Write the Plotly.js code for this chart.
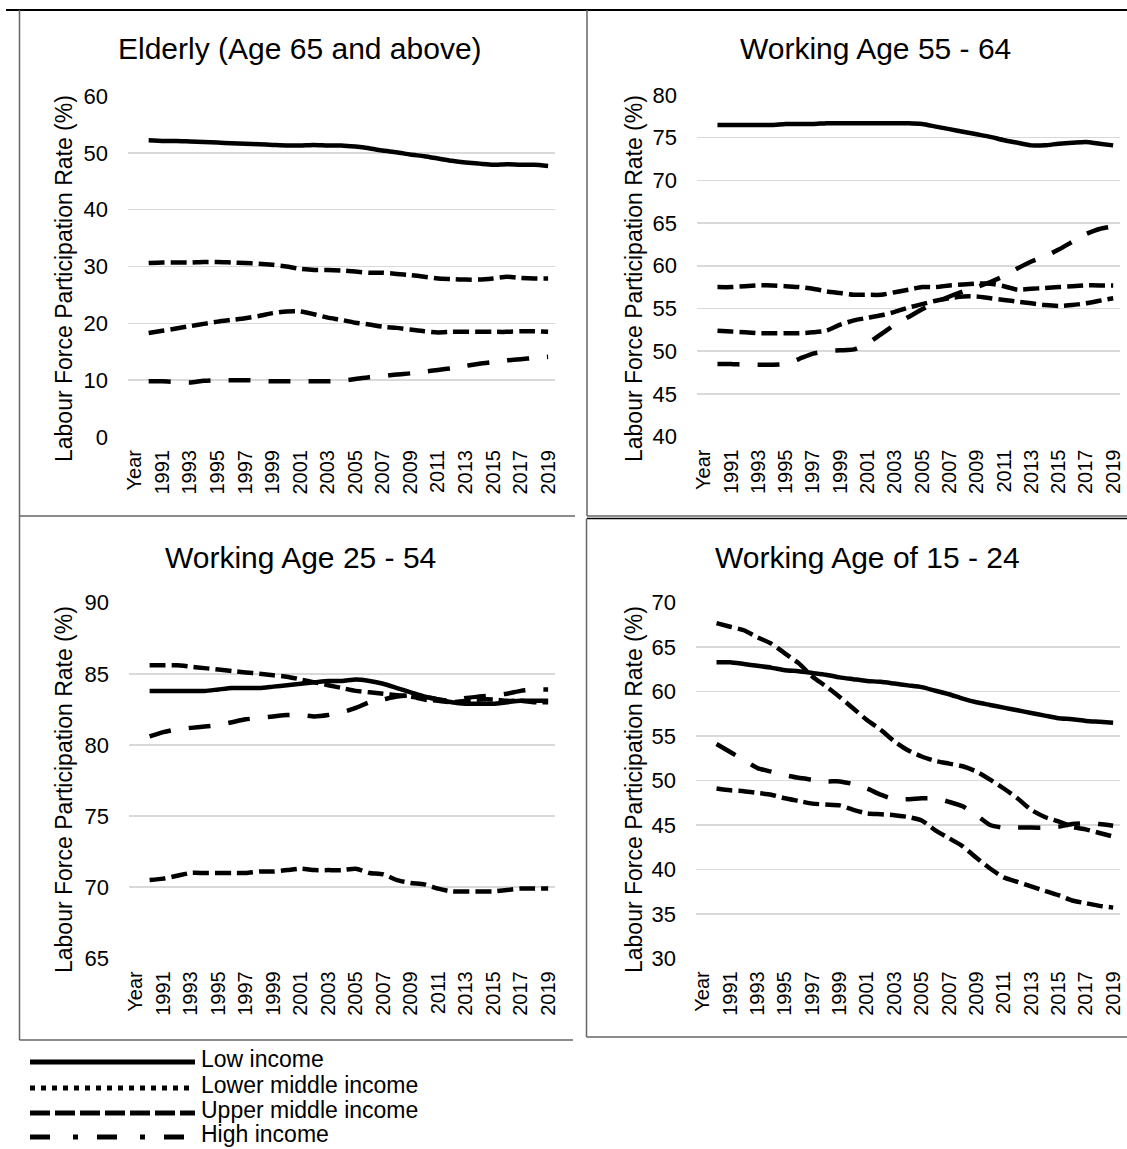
<!DOCTYPE html>
<html><head><meta charset="utf-8">
<script src="https://cdn.plot.ly/plotly-3.0.1.min.js"></script>
<style>html,body{margin:0;padding:0;background:#fff}#chart{width:1127px;height:1149px}</style>
</head><body><div id="chart"></div>
<script>
// ---- data ----
const years = ['1990','1991','1992','1993','1994','1995','1996','1997','1998','1999','2000','2001','2002','2003','2004','2005','2006','2007','2008','2009','2010','2011','2012','2013','2014','2015','2016','2017','2018','2019'];
const categories = ['Year'].concat(years);
const tickLabels = ['Year','1991','1993','1995','1997','1999','2001','2003','2005','2007','2009','2011','2013','2015','2017','2019'];
const seriesNames = ['Low income','Lower middle income','Upper middle income','High income'];
const panelTitles = ['Elderly (Age 65 and above)','Working Age 55 - 64','Working Age 25 - 54','Working Age of 15 - 24'];
const yAxisTitle = 'Labour Force Participation Rate (%)';

const elderlyLow = [52.2,52.1,52.1,52.0,51.9,51.8,51.7,51.6,51.5,51.4,51.3,51.3,51.4,51.3,51.3,51.1,50.8,50.4,50.1,49.7,49.4,49.0,48.6,48.3,48.1,47.9,48.0,47.9,47.9,47.7];
const elderlyLowerMiddle = [30.6,30.7,30.7,30.7,30.8,30.8,30.7,30.6,30.5,30.3,30.0,29.6,29.4,29.4,29.3,29.1,28.9,28.9,28.7,28.5,28.2,27.9,27.8,27.7,27.7,27.9,28.2,28.0,27.9,27.9];
const elderlyUpperMiddle = [18.3,18.7,19.1,19.5,19.9,20.3,20.6,20.9,21.3,21.8,22.1,22.1,21.6,21.0,20.6,20.1,19.8,19.4,19.2,18.9,18.6,18.4,18.5,18.5,18.5,18.5,18.5,18.6,18.6,18.5];
const elderlyHigh = [9.8,9.8,9.7,9.6,9.9,10.0,10.0,10.0,9.9,9.8,9.8,9.8,9.8,9.8,9.9,10.2,10.5,10.7,11.0,11.2,11.5,11.8,12.1,12.5,12.9,13.2,13.5,13.7,13.9,14.1];

const age5564Low = [76.5,76.5,76.5,76.5,76.5,76.6,76.6,76.6,76.7,76.7,76.7,76.7,76.7,76.7,76.7,76.6,76.3,76.0,75.7,75.4,75.1,74.7,74.4,74.1,74.1,74.3,74.4,74.5,74.3,74.1];
const age5564LowerMiddle = [57.5,57.5,57.6,57.7,57.7,57.6,57.5,57.3,57.0,56.8,56.6,56.6,56.6,56.9,57.2,57.5,57.5,57.7,57.8,57.9,57.9,57.6,57.2,57.3,57.4,57.5,57.6,57.7,57.7,57.7];
const age5564UpperMiddle = [52.4,52.3,52.2,52.1,52.1,52.1,52.1,52.2,52.4,53.1,53.6,53.9,54.2,54.6,55.1,55.5,55.9,56.2,56.4,56.4,56.2,56.0,55.8,55.6,55.4,55.3,55.4,55.6,55.9,56.2];
const age5564High = [48.5,48.5,48.4,48.4,48.4,48.5,49.1,49.7,50.0,50.1,50.2,50.9,52.0,53.1,54.0,54.9,55.7,56.4,57.0,57.5,58.1,58.8,59.7,60.5,61.1,61.9,62.8,63.7,64.3,64.6];

const age2554Low = [83.8,83.8,83.8,83.8,83.8,83.9,84.0,84.0,84.0,84.1,84.2,84.3,84.4,84.5,84.5,84.6,84.5,84.3,84.0,83.7,83.4,83.2,83.0,82.9,82.9,82.9,83.0,83.1,83.1,83.1];
const age2554LowerMiddle = [85.6,85.6,85.6,85.5,85.4,85.3,85.2,85.1,85.0,84.9,84.8,84.6,84.4,84.2,84.0,83.8,83.7,83.6,83.5,83.4,83.2,83.1,83.0,83.1,83.2,83.2,83.1,83.1,83.0,83.0];
const age2554UpperMiddle = [70.5,70.6,70.8,71.0,71.0,71.0,71.0,71.0,71.1,71.1,71.2,71.3,71.2,71.2,71.2,71.3,71.0,70.9,70.5,70.3,70.2,69.9,69.7,69.7,69.7,69.7,69.8,69.9,69.9,69.9];
const age2554High = [80.6,80.9,81.1,81.2,81.3,81.4,81.6,81.8,81.9,82.0,82.1,82.1,82.0,82.1,82.3,82.6,83.0,83.2,83.4,83.5,83.4,83.2,83.1,83.3,83.4,83.5,83.6,83.8,83.9,83.9];

const age1524Low = [63.3,63.3,63.1,62.9,62.7,62.4,62.3,62.1,61.9,61.6,61.4,61.2,61.1,60.9,60.7,60.5,60.1,59.7,59.2,58.8,58.5,58.2,57.9,57.6,57.3,57.0,56.9,56.7,56.6,56.5];
const age1524LowerMiddle = [49.1,48.9,48.8,48.6,48.4,48.0,47.7,47.4,47.3,47.2,46.7,46.3,46.2,46.1,45.9,45.5,44.4,43.5,42.6,41.3,40.1,39.1,38.6,38.1,37.6,37.1,36.5,36.2,35.9,35.7];
const age1524UpperMiddle = [67.7,67.3,66.9,66.1,65.4,64.3,63.2,61.7,60.6,59.4,58.1,56.8,55.7,54.4,53.4,52.7,52.2,51.9,51.6,51.0,50.1,49.1,48.0,46.7,45.9,45.4,44.8,44.5,44.1,43.7];
const age1524High = [54.1,53.2,52.3,51.4,51.0,50.6,50.3,50.1,49.9,49.9,49.6,49.1,48.4,47.9,47.9,48.0,48.0,47.6,47.1,46.1,45.0,44.7,44.7,44.7,44.7,44.8,45.1,45.2,45.1,44.9];

const yRanges = [[0,60],[40,80],[65,90],[30,70]];
const yDticks = [10,5,5,5];

// ---- layout helpers ----
const W = 1127, H = 1149;
const px = x => x / W;
const py = y => 1 - y / H;
const FONT = 'Liberation Sans, Arial, Helvetica, sans-serif';

const panelSeries = [
  [elderlyLow, elderlyLowerMiddle, elderlyUpperMiddle, elderlyHigh],
  [age5564Low, age5564LowerMiddle, age5564UpperMiddle, age5564High],
  [age2554Low, age2554LowerMiddle, age2554UpperMiddle, age2554High],
  [age1524Low, age1524LowerMiddle, age1524UpperMiddle, age1524High]
];
// plot-area pixel boxes [left, right, top, bottom]
const boxes = [[128,555,96,437],[697,1120,95,436.5],[129,555,602.7,958.3],[696,1120,602.7,958.3]];
const titlePos = [[300,49],[875,49],[300,557],[867,557]];
const yTitlePos = [[64,279],[634,279],[64,790],[634,790]];
const plotDash = ['solid','16px,6px','16px,6px','22px,18px'];

const traces = [];
const layout = {
  width: W, height: H,
  margin: {l:0, r:0, t:0, b:0},
  paper_bgcolor: '#fff', plot_bgcolor: '#fff',
  font: {family: FONT, color: '#000'},
  showlegend: false,
  annotations: [], shapes: []
};

panelSeries.forEach((group, p) => {
  const s = p === 0 ? '' : String(p + 1);
  const b = boxes[p];
  group.forEach((vals, k) => {
    traces.push({
      x: years, y: vals, name: seriesNames[k],
      xaxis: 'x' + s, yaxis: 'y' + s,
      type: 'scatter', mode: 'lines',
      line: {color: '#000', width: 4.5, dash: plotDash[k], shape: 'spline', smoothing: 0.6},
      hoverinfo: 'skip', showlegend: false
    });
  });
  layout['xaxis' + s] = {
    type: 'category', categoryorder: 'array', categoryarray: categories,
    range: [-0.5, categories.length - 0.5],
    domain: [px(b[0]), px(b[1])], anchor: 'y' + s,
    tickmode: 'array', tickvals: tickLabels, ticktext: tickLabels,
    tickangle: -90, tickfont: {size: 20, color: '#000', family: FONT},
    showgrid: false, zeroline: false, showline: false, ticks: '',
    ticklabelstandoff: 8, fixedrange: true
  };
  layout['yaxis' + s] = {
    range: yRanges[p], dtick: yDticks[p], tick0: 0,
    domain: [py(b[3]), py(b[2])], anchor: 'x' + s,
    showgrid: true, gridcolor: '#d9d9d9', gridwidth: 1.5,
    zeroline: false, showline: false, ticks: '',
    tickfont: {size: 22, color: '#000', family: FONT},
    ticklabelstandoff: 19, fixedrange: true
  };
  layout.annotations.push({
    text: panelTitles[p], xref: 'paper', yref: 'paper',
    x: px(titlePos[p][0]), y: py(titlePos[p][1]),
    xanchor: 'center', yanchor: 'middle', showarrow: false,
    font: {size: 30, color: '#000', family: FONT}
  });
  layout.annotations.push({
    text: yAxisTitle, xref: 'paper', yref: 'paper',
    x: px(yTitlePos[p][0]), y: py(yTitlePos[p][1]),
    xanchor: 'center', yanchor: 'middle', showarrow: false, textangle: -90,
    font: {size: 23, color: '#000', family: FONT}
  });
});

// ---- table borders ----
function seg(x0, y0, x1, y1, color, width) {
  layout.shapes.push({type: 'line', xref: 'paper', yref: 'paper',
    x0: px(x0), y0: py(y0), x1: px(x1), y1: py(y1),
    line: {color: color, width: width}});
}
seg(6, 10, 1127, 10, '#000', 2);
seg(19.5, 10, 19.5, 1040, '#666', 1.5);
seg(587, 10, 587, 516, '#666', 1.5);
seg(19.5, 516, 575, 516, '#666', 1.5);
seg(587, 516, 1127, 516, '#666', 1.5);
seg(587, 518.5, 1127, 518.5, '#000', 1.5);
seg(586.5, 518.5, 586.5, 1037, '#666', 1.5);
seg(19.5, 1040, 573, 1040, '#666', 1.5);
seg(586.5, 1037, 1127, 1037, '#666', 1.5);

// ---- legend (drawn below the panels) ----
const legendDash = ['solid','5px,6px','20px,5px','20px,23px,5px,19px'];
const legendY = [1062, 1088, 1113, 1137];
seriesNames.forEach((name, k) => {
  layout.shapes.push({type: 'line', xref: 'paper', yref: 'paper',
    x0: px(30), x1: px(195), y0: py(legendY[k]), y1: py(legendY[k]),
    line: {color: '#000', width: 5, dash: legendDash[k]}});
  layout.annotations.push({
    text: name, xref: 'paper', yref: 'paper',
    x: px(199), y: py(legendY[k] - 3), xanchor: 'left', yanchor: 'middle',
    showarrow: false, font: {size: 23, color: '#000', family: FONT}
  });
});

Plotly.newPlot('chart', traces, layout, {staticPlot: true, displayModeBar: false});
</script></body></html>
